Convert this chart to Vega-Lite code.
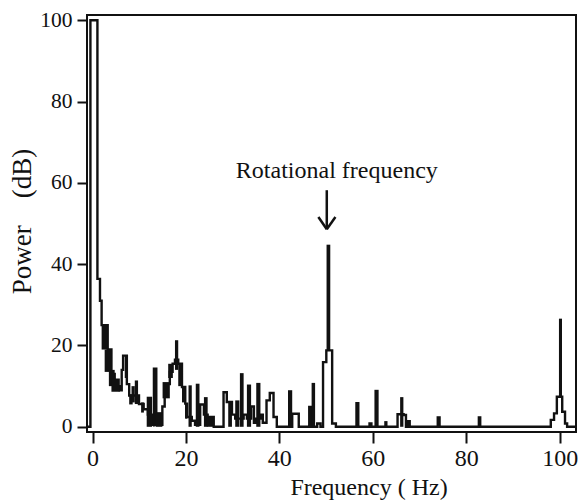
{
  "$schema": "https://vega.github.io/schema/vega-lite/v6.json",
  "width": 489,
  "height": 417,
  "autosize": {"type": "none"},
  "padding": {"left": 87, "top": 15, "right": 3, "bottom": 68},
  "background": "white",
  "config": {
    "view": {"stroke": "#111", "strokeWidth": 2},
    "font": "Liberation Serif",
    "axis": {"labelFont": "Liberation Serif", "titleFont": "Liberation Serif"},
    "text": {"font": "Liberation Serif"}
  },
  "datasets": {
    "outline": [
      {"f": -1.2, "v": 0}, {"f": -0.45, "v": 100}, {"f": 1.05, "v": 36.4}, {"f": 1.6, "v": 31},
      {"f": 1.95, "v": 25}, {"f": 3.25, "v": 19}, {"f": 4.05, "v": 13}, {"f": 4.75, "v": 10},
      {"f": 5.85, "v": 9}, {"f": 6.25, "v": 14}, {"f": 6.55, "v": 17.5}, {"f": 7.35, "v": 10.5},
      {"f": 7.85, "v": 7.7}, {"f": 9.95, "v": 5.6}, {"f": 10.95, "v": 4.3}, {"f": 11.85, "v": 3},
      {"f": 12.75, "v": 0.5}, {"f": 13.15, "v": 14.3}, {"f": 13.65, "v": 0.5}, {"f": 14.95, "v": 5},
      {"f": 15.45, "v": 8}, {"f": 16.05, "v": 10.5}, {"f": 16.55, "v": 13.5}, {"f": 17.15, "v": 15.5},
      {"f": 17.65, "v": 16.5}, {"f": 18.35, "v": 15.5}, {"f": 19.15, "v": 9.8}, {"f": 19.85, "v": 5.7},
      {"f": 20.25, "v": 2.4}, {"f": 21.25, "v": 1.5}, {"f": 21.95, "v": 0.5}, {"f": 23.05, "v": 5.5},
      {"f": 23.85, "v": 3}, {"f": 24.65, "v": 2.4}, {"f": 25.95, "v": 0}, {"f": 28.05, "v": 8.5},
      {"f": 28.75, "v": 6.1}, {"f": 29.85, "v": 3}, {"f": 30.55, "v": 2}, {"f": 32.35, "v": 3},
      {"f": 33.05, "v": 2}, {"f": 33.95, "v": 5}, {"f": 34.55, "v": 1}, {"f": 35.05, "v": 2},
      {"f": 35.95, "v": 3}, {"f": 36.45, "v": 1}, {"f": 37.25, "v": 6.5}, {"f": 37.95, "v": 8.3},
      {"f": 38.75, "v": 2.4}, {"f": 39.45, "v": 0}, {"f": 42.75, "v": 3.2}, {"f": 44.15, "v": 0},
      {"f": 46.4, "v": 4.9}, {"f": 46.9, "v": 0}, {"f": 48.1, "v": 0.8}, {"f": 48.8, "v": 0},
      {"f": 49.35, "v": 15.9}, {"f": 50.05, "v": 18.8}, {"f": 51.3, "v": 0.8}, {"f": 52.1, "v": 0},
      {"f": 59.3, "v": 0.8}, {"f": 59.7, "v": 0}, {"f": 65.3, "v": 3.1}, {"f": 66.6, "v": 2.9},
      {"f": 67.1, "v": 0}, {"f": 67.6, "v": 1.4}, {"f": 67.9, "v": 0}, {"f": 98.1, "v": 1.7},
      {"f": 98.8, "v": 3.3}, {"f": 99.4, "v": 7.4}, {"f": 100.55, "v": 3.7}, {"f": 101.15, "v": 0.8},
      {"f": 101.6, "v": 0}, {"f": 103.6, "v": 0}
    ],
    "bars": [
      {"f": 1.95, "f1": 3.25, "v": 19, "v1": 25},
      {"f": 2.6, "f1": 4.05, "v": 13.5, "v1": 19},
      {"f": 3.5, "f1": 4.75, "v": 10, "v1": 14},
      {"f": 4.05, "f1": 5.85, "v": 8.6, "v1": 11.9},
      {"f": 6.9, "f1": 7.35, "v": 12, "v1": 17.5},
      {"f": 7.85, "f1": 8.6, "v": 5.5, "v1": 8},
      {"f": 8.35, "f1": 9.05, "v": 6, "v1": 10},
      {"f": 9.05, "f1": 9.75, "v": 5.6, "v1": 11.4},
      {"f": 10.4, "f1": 11.0, "v": 3.5, "v1": 6},
      {"f": 11.6, "f1": 12.75, "v": 0, "v1": 7.4},
      {"f": 13.5, "f1": 14.95, "v": 0, "v1": 3.6},
      {"f": 13.0, "f1": 13.3, "v": 0, "v1": 10},
      {"f": 15.0, "f1": 16.55, "v": 7, "v1": 11},
      {"f": 16.2, "f1": 17.2, "v": 12, "v1": 15.5},
      {"f": 17.65, "f1": 18.35, "v": 14, "v1": 21.3},
      {"f": 18.35, "f1": 19.05, "v": 10, "v1": 15.5},
      {"f": 19.15, "f1": 19.75, "v": 6, "v1": 9.8},
      {"f": 19.8, "f1": 20.3, "v": 2, "v1": 5.7},
      {"f": 20.55, "f1": 21.25, "v": 0, "v1": 10.2},
      {"f": 22.1, "f1": 22.9, "v": 0, "v1": 10.6},
      {"f": 23.85, "f1": 24.65, "v": 0, "v1": 7.3},
      {"f": 24.45, "f1": 25.95, "v": 0, "v1": 2.4},
      {"f": 29.05, "f1": 29.85, "v": 0, "v1": 6.1},
      {"f": 30.55, "f1": 31.45, "v": 0, "v1": 6.5},
      {"f": 31.55, "f1": 32.35, "v": 0, "v1": 13.2},
      {"f": 33.05, "f1": 33.95, "v": 0, "v1": 10.4},
      {"f": 35.05, "f1": 35.95, "v": 0, "v1": 10.8},
      {"f": 41.85, "f1": 42.75, "v": 0, "v1": 9.0},
      {"f": 46.9, "f1": 47.65, "v": 0, "v1": 10.8},
      {"f": 50.1, "f1": 50.9, "v": 18.8, "v1": 44.8},
      {"f": 56.25, "f1": 57.15, "v": 0, "v1": 6.1},
      {"f": 60.35, "f1": 61.25, "v": 0, "v1": 9.1},
      {"f": 62.45, "f1": 63.15, "v": 0, "v1": 1.4},
      {"f": 65.85, "f1": 66.55, "v": 0, "v1": 7.3},
      {"f": 73.65, "f1": 74.55, "v": 0, "v1": 2.6},
      {"f": 82.45, "f1": 83.25, "v": 0, "v1": 2.6},
      {"f": 99.85, "f1": 100.5, "v": 7.4, "v1": 26.6}
    ],
    "arrow": [
      {"f": 50.15, "v": 58.2, "f1": 50.15, "v1": 48.6},
      {"f": 48.35, "v": 51.6, "f1": 50.15, "v1": 48.6},
      {"f": 52.0, "v": 51.6, "f1": 50.15, "v1": 48.6}
    ],
    "note": [
      {"f": 52.3, "v": 61.1, "label": "Rotational frequency"}
    ]
  },
  "layer": [
    {
      "data": {"name": "outline"},
      "mark": {"type": "line", "interpolate": "step-after", "color": "#111", "strokeWidth": 2.4, "clip": true},
      "encoding": {
        "x": {
          "field": "f", "type": "quantitative",
          "scale": {"domain": [-1.18, 103.5], "nice": false, "zero": false},
          "axis": {
            "values": [0, 20, 40, 60, 80, 100],
            "title": "Frequency ( Hz)",
            "domain": false, "grid": false,
            "tickSize": 11, "tickWidth": 2, "tickColor": "#111",
            "labelFontSize": 24, "labelColor": "#111", "labelPadding": 3,
            "labelFont": "Liberation Serif",
            "titleFont": "Liberation Serif", "titleFontSize": 24, "titleFontWeight": "normal",
            "titleColor": "#111", "titleX": 281.5, "titleY": 62.3,
            "titleAlign": "center", "titleBaseline": "alphabetic"
          }
        },
        "y": {
          "field": "v", "type": "quantitative",
          "scale": {"domain": [-1.28, 101.3], "nice": false, "zero": false},
          "axis": {
            "values": [0, 20, 40, 60, 80, 100],
            "title": "Power\u00a0\u00a0\u00a0\u00a0(dB)",
            "domain": false, "grid": false,
            "tickSize": 10, "tickWidth": 2, "tickColor": "#111",
            "labelFontSize": 21.5, "labelColor": "#111", "labelPadding": 5,
            "labelFont": "Liberation Serif",
            "titleFont": "Liberation Serif", "titleFontSize": 27, "titleFontWeight": "normal",
            "titleColor": "#111", "titleAngle": -90, "titleX": -57, "titleY": 206,
            "titleAlign": "center", "titleBaseline": "alphabetic"
          }
        }
      }
    },
    {
      "data": {"name": "bars"},
      "mark": {"type": "rect", "color": "#111", "clip": true},
      "encoding": {
        "x": {"field": "f", "type": "quantitative"},
        "x2": {"field": "f1"},
        "y": {"field": "v", "type": "quantitative"},
        "y2": {"field": "v1"}
      }
    },
    {
      "data": {"name": "arrow"},
      "mark": {"type": "rule", "color": "#111", "strokeWidth": 2.5},
      "encoding": {
        "x": {"field": "f", "type": "quantitative"},
        "x2": {"field": "f1"},
        "y": {"field": "v", "type": "quantitative"},
        "y2": {"field": "v1"}
      }
    },
    {
      "data": {"name": "note"},
      "mark": {"type": "text", "font": "Liberation Serif", "fontSize": 24, "color": "#111", "align": "center", "baseline": "alphabetic"},
      "encoding": {
        "x": {"field": "f", "type": "quantitative"},
        "y": {"field": "v", "type": "quantitative"},
        "text": {"field": "label"}
      }
    }
  ]
}
